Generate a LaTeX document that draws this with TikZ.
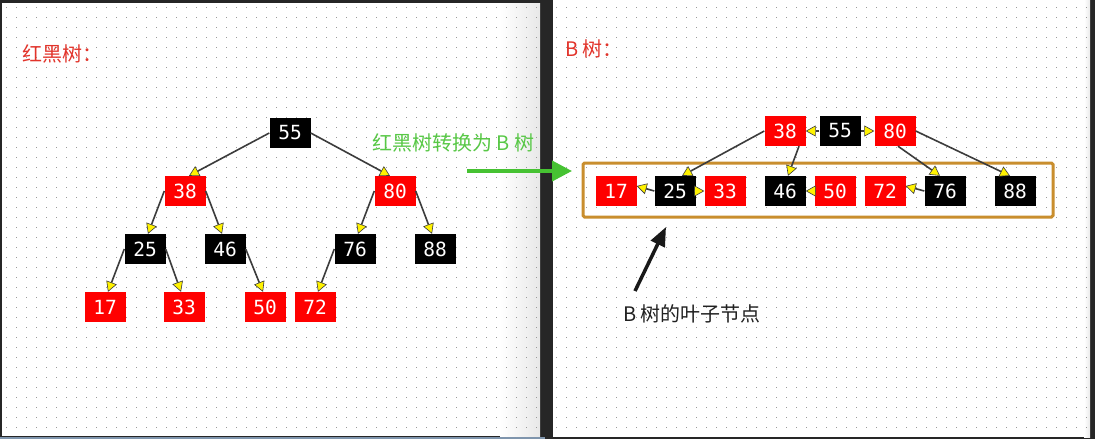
\documentclass[tikz,border=0pt]{standalone}
\usepackage{fontspec}
\newfontfamily\cjk{Noto Sans CJK SC}
\newfontfamily\mono{DejaVu Sans Mono}
\usetikzlibrary{arrows.meta,calc}
\definecolor{edgegray}{HTML}{3C3C3C}
\definecolor{nodered}{HTML}{FF0000}
\definecolor{titlered}{HTML}{E2342B}
\definecolor{labgreen}{HTML}{58C846}
\definecolor{arrgreen}{HTML}{46C232}
\definecolor{boxorange}{HTML}{C98E2E}
\definecolor{dotgray}{HTML}{9A9A9A}
\definecolor{frame}{HTML}{262626}
\definecolor{strip}{HTML}{7F95AD}
\tikzset{
  rbnode/.style={minimum width=41pt, minimum height=30pt, inner sep=0pt, text=white,
    font=\mono\fontsize{19.5}{19.5}\selectfont},
  rnode/.style={rbnode, fill=nodered},
  bnode/.style={rbnode, fill=black},
  tedge/.style={draw=edgegray, line width=1.6pt,
    -{Triangle[length=10pt,width=11pt,fill=yellow,line width=0.6pt]}},
  titletext/.style={anchor=west, inner sep=0pt, text=titlered, font=\cjk\fontsize{20}{20}\selectfont},
  leafbox/.style={draw=boxorange, line width=3pt, rounded corners=1.5pt, minimum width=470pt, minimum height=54pt, inner sep=0pt},
}
\begin{document}
\begin{tikzpicture}[x=1pt,y=-1pt]
\useasboundingbox (0,0) rectangle (1095,439);
% frame and panels
\fill[frame] (0,0) rectangle (1095,439);
\fill[strip] (0,437) rectangle (545,439);
\fill[white] (2,3) rectangle (540,436);
\shade[left color=white, right color=black!9] (500,3) rectangle (540,436);
\fill[white] (553,0) rectangle (1090,437);
\shade[left color=white, right color=black!8] (1084,0) rectangle (1090,437);
% dot grid
\foreach \i in {0,...,53} {
  \foreach \j in {0,...,42} {
    \fill[dotgray] ({5.5+10*\i},{6.5+10*\j}) rectangle +(1,1);
  }
}
\foreach \i in {55,...,108} {
  \foreach \j in {0,...,42} {
    \fill[dotgray] ({5.5+10*\i},{6.5+10*\j}) rectangle +(1,1);
  }
}
% titles
\node[titletext] (lt) at (22,54) {红黑树：};
\node[titletext] (rt) at (565,48.5) {B 树：};
% left red-black tree
\node[bnode] (t55) at (290,133) {55};
\node[rnode] (t38) at (185,191) {38};
\node[rnode] (t80) at (395,191) {80};
\node[bnode] (t25) at (145,249) {25};
\node[bnode] (t46) at (225,249) {46};
\node[bnode] (t76) at (355,249) {76};
\node[bnode] (t88) at (435,249) {88};
\node[rnode] (t17) at (105,307) {17};
\node[rnode] (t33) at (184,307) {33};
\node[rnode] (t50) at (265,307) {50};
\node[rnode] (t72) at (315,307) {72};
\draw[tedge] (t55.west) -- ($(t38.north)+(4,0)$);
\draw[tedge] (t55.east) -- ($(t80.north)+(-5,0)$);
\draw[tedge] (t38.west) -- ($(t25.north)+(3,0)$);
\draw[tedge] (t38.east) -- ($(t46.north)+(-3,0)$);
\draw[tedge] (t80.west) -- ($(t76.north)+(3,0)$);
\draw[tedge] (t80.east) -- ($(t88.north)+(-3,0)$);
\draw[tedge] (t25.west) -- ($(t17.north)+(3,0)$);
\draw[tedge] (t25.east) -- ($(t33.north)+(-3,0)$);
\draw[tedge] (t46.east) -- ($(t50.north)+(-2,0)$);
\draw[tedge] (t76.west) -- ($(t72.north)+(3,0)$);
% conversion label and arrow
\node[anchor=west, inner sep=0pt, text=labgreen, font=\cjk\fontsize{20}{20}\selectfont] (conv) at (372,143) {红黑树转换为 B 树};
\coordinate (ga) at (467,171);
\coordinate (gb) at (572,171);
\draw[arrgreen, line width=4pt, -{Triangle[length=20pt,width=20pt]}] (ga) -- (gb);
% B-tree
\node[leafbox] (leaf) at (818,190) {};
\node[rnode] (b38) at (785,131) {38};
\node[bnode] (b55) at (840,131) {55};
\node[rnode] (b80) at (895,131) {80};
\node[rnode] (b17) at (616,191) {17};
\node[bnode] (b25) at (675,191) {25};
\node[rnode] (b33) at (725,191) {33};
\node[bnode] (b46) at (785,191) {46};
\node[rnode] (b50) at (835,191) {50};
\node[rnode] (b72) at (885,191) {72};
\node[bnode] (b76) at (945,191) {76};
\node[bnode] (b88) at (1015,191) {88};
\draw[tedge] (b55.west) -- (b38.east);
\draw[tedge] (b55.east) -- (b80.west);
\draw[tedge] (b38.west) -- ($(b25.north)+(7,0)$);
\draw[tedge] ($(b38.south)+(14,0)$) -- ($(b46.north)+(3,0)$);
\draw[tedge] ($(b80.south)+(3,0)$) -- ($(b76.north)+(-5,0)$);
\draw[tedge] (b80.east) -- ($(b88.north)+(-5,0)$);
\draw[tedge] (b25.west) -- ($(b17.east)+(0,-5)$);
\draw[tedge] (b25.east) -- (b33.west);
\draw[tedge] (b50.west) -- (b46.east);
\draw[tedge] (b76.west) -- ($(b72.east)+(0,-5)$);
% leaf annotation
\coordinate (ka) at (635,291);
\coordinate (kb) at (666,227);
\draw[black!90, line width=3.5pt, -{Triangle[length=19pt,width=15pt]}] (ka) -- (kb);
\node[anchor=west, inner sep=0pt, text=black!87, font=\cjk\fontsize{20}{20}\selectfont] (leaflab) at (623,314) {B 树的叶子节点};
\end{tikzpicture}
\end{document}
